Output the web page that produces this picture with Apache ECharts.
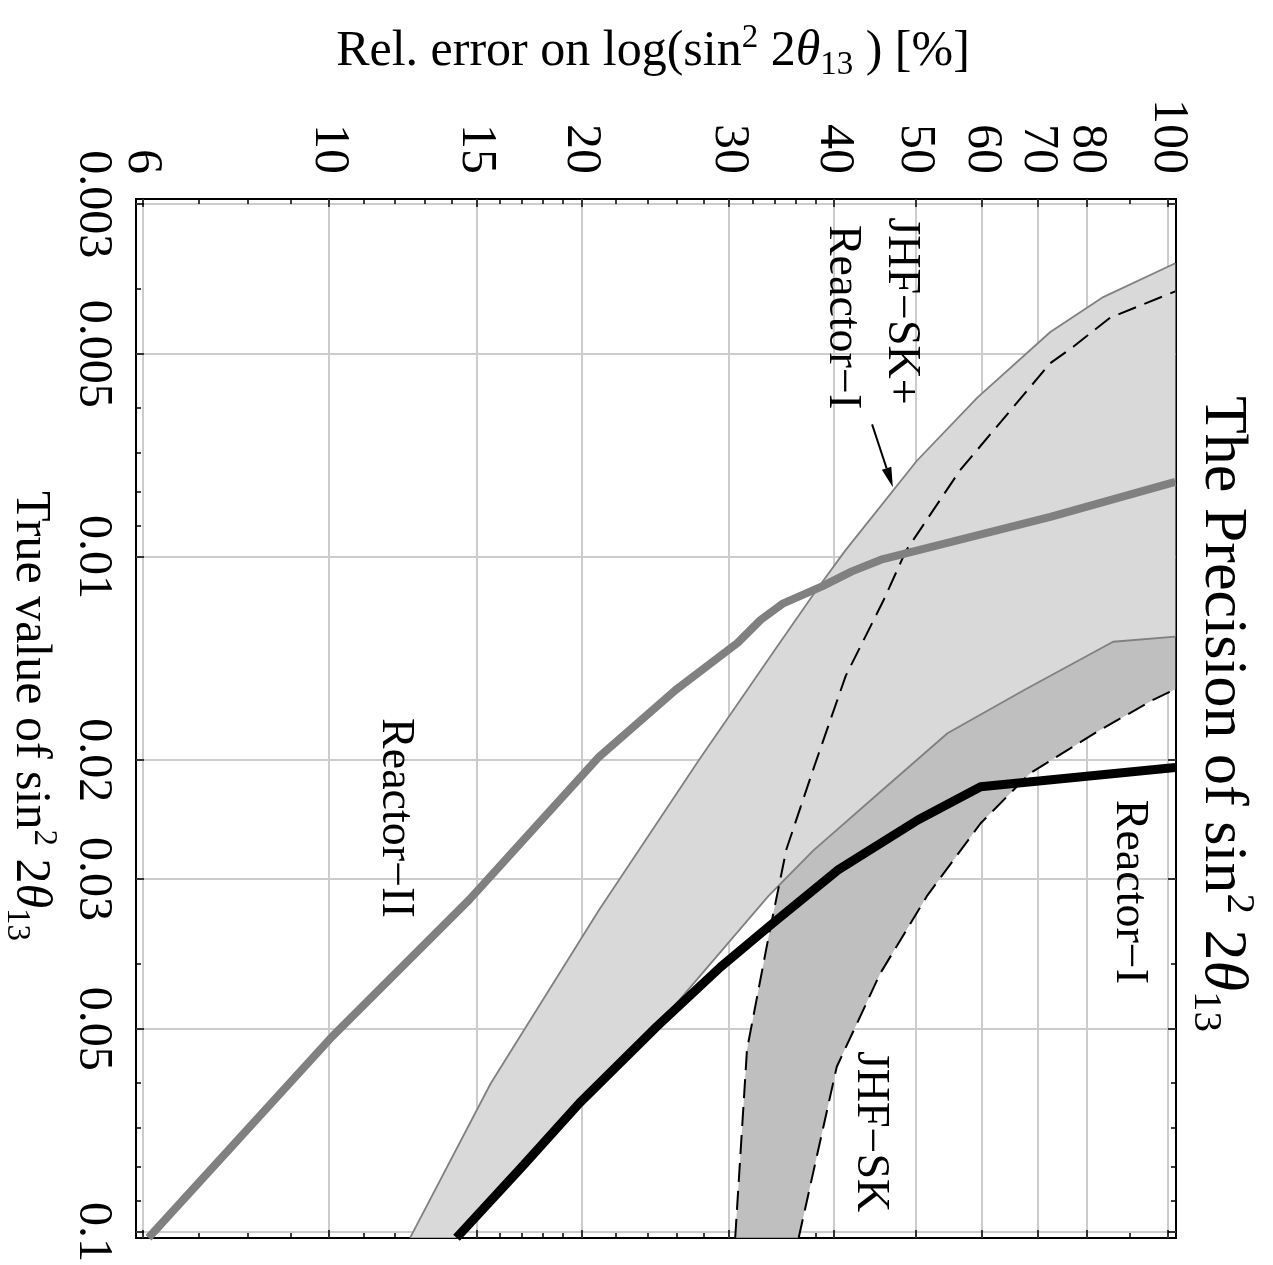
<!DOCTYPE html>
<html><head><meta charset="utf-8">
<script src="https://cdn.jsdelivr.net/npm/echarts@6/dist/echarts.min.js"></script>
<style>html,body{margin:0;padding:0;background:#fff}#c{width:1273px;height:1265px}</style>
</head><body><div id="c"></div>
<script>
const FONT = 'Liberation Serif';

// ---- axes (horizontal: relative error in %, vertical: true sin^2 2theta13) ----
const errRange = [5.894, 102.2];
const s2Range = [0.002948, 0.10207];
const errMajorTicks = [6, 10, 15, 20, 30, 40, 50, 60, 70, 80, 100];
const errMinorTicks = [7, 8, 9, 11, 12, 13, 14, 16, 17, 18, 19, 22, 24, 26, 28, 32, 34, 36, 38, 90];
const s2MajorTicks = [0.003, 0.005, 0.01, 0.02, 0.03, 0.05, 0.1];
const s2MinorTicks = [0.004, 0.006, 0.007, 0.008, 0.009, 0.04, 0.06, 0.07, 0.08, 0.09];

// ---- curves: [rel. error %, sin^2 2theta13] ----
const reactorII = [[6.1,0.102],[10.1,0.0513],[14.7,0.0322],[21.0,0.01976],[25.9,0.01574],[30.7,0.0134],[32.7,0.01239],[34.8,0.01171],[38.7,0.01105],[42.0,0.0105],[45.5,0.01009],[72.4,0.00872],[102,0.00774]];
const reactorI = [[14.2,0.102],[17.0,0.08],[19.9,0.0644],[24.6,0.0496],[29.3,0.0405],[33.8,0.0349],[40.4,0.0291],[50.4,0.0245],[59.8,0.0219],[102,0.0205]];
// JHF-SK + Reactor-I band: left edge, right edge
const comboLeft = [[12.5,0.102],[15.6,0.0602],[21.0,0.0333],[27.6,0.02],[33.9,0.0138],[38.1,0.0112],[41.2,0.0098],[50.2,0.0072],[59.3,0.0058],[72.4,0.00464],[83.7,0.00412],[102,0.00367]];
const comboRight = [[14.2,0.102],[19.9,0.0644],[24.6,0.0496],[33.4,0.0318],[37.8,0.0272],[45.0,0.0225],[54.6,0.01824],[67.4,0.01574],[86.0,0.01335],[102,0.01312]];
// JHF-SK band: left (dashed) edge, right (dashed) edge
const jhfLeft = [[30.5,0.102],[31.5,0.0537],[33.5,0.036],[35.1,0.0271],[37.9,0.0204],[41.3,0.015],[45.8,0.0116],[48.7,0.0098],[56.5,0.00744],[72.4,0.00516],[77.1,0.00488],[85.3,0.00442],[102,0.00404]];
const jhfRight = [[36.3,0.102],[40.3,0.0569],[45.4,0.0414],[51.6,0.0318],[59.8,0.0248],[68.5,0.0209],[82.6,0.0181],[95.8,0.0163],[102,0.0157]];

// ---- annotations ----
const annotationTexts = ['JHF\u2212SK+', 'Reactor\u2212I', 'Reactor\u2212II', 'Reactor\u2212I', 'JHF\u2212SK'];
const annotationPos = [[48.1,0.00432],[40.9,0.00441],[12.0,0.02435],[89.9,0.03134],[44.15,0.0710]];
const arrowFrom = [44.4, 0.00636];
const arrowTo = [47.0, 0.00788];

const comboBand = comboLeft.concat(comboRight.slice().reverse());
const jhfBand = jhfLeft.concat(jhfRight.slice().reverse());

function rich(fs) {
  return {
    n: {fontSize: fs, fontFamily: FONT, fill: '#000', lineHeight: Math.round(fs * 1.2)},
    it: {fontSize: fs, fontFamily: FONT, fontStyle: 'italic', fill: '#000', lineHeight: Math.round(fs * 1.2)},
    sup: {fontSize: Math.round(fs * 0.66), fontFamily: FONT, fill: '#000', verticalAlign: 'top'},
    sub: {fontSize: Math.round(fs * 0.66), fontFamily: FONT, fill: '#000', verticalAlign: 'bottom'}
  };
}

const tickLine = {color: '#000', width: 1.5};
function xAxisDef(pos, ticks, len, withLabels) {
  return {
    type: 'log', logBase: 10, position: pos, min: errRange[0], max: errRange[1],
    axisLine: {show: false},
    axisTick: {show: true, inside: true, length: len, customValues: ticks, lineStyle: tickLine},
    axisLabel: withLabels ? {show: true, customValues: ticks, rotate: 90, margin: 25,
      fontFamily: FONT, fontSize: 50, color: '#000', formatter: v => String(Math.round(v))} : {show: false},
    splitLine: withLabels ? {show: true, lineStyle: {color: '#cccccc', width: 2}} : {show: false},
    minorTick: {show: false}, minorSplitLine: {show: false}
  };
}
function yAxisDef(pos, ticks, len, withLabels) {
  return {
    type: 'log', logBase: 10, position: pos, inverse: true, min: s2Range[0], max: s2Range[1],
    axisLine: {show: false},
    axisTick: {show: true, inside: true, length: len, customValues: ticks, lineStyle: tickLine},
    axisLabel: withLabels ? {show: true, customValues: ticks, rotate: -90, margin: 19,
      fontFamily: FONT, fontSize: 48, color: '#000', formatter: v => String(parseFloat(Number(v).toPrecision(3)))} : {show: false},
    splitLine: withLabels ? {show: true, lineStyle: {color: '#cccccc', width: 2}} : {show: false},
    minorTick: {show: false}, minorSplitLine: {show: false}
  };
}

function polygonSeries(points, color, z) {
  return {
    type: 'custom', coordinateSystem: 'cartesian2d', xAxisIndex: 0, yAxisIndex: 0, z: z, silent: true,
    data: [points[0]],
    renderItem: function (params, api) {
      return {type: 'polygon', shape: {points: points.map(p => api.coord(p))}, style: {fill: color}};
    }
  };
}
function lineSeries(data, color, width, z, dashed) {
  return {
    type: 'line', data: data, xAxisIndex: 0, yAxisIndex: 0, symbol: 'none', showSymbol: false, silent: true, z: z,
    lineStyle: {color: color, width: width, type: dashed ? [19, 9] : 'solid', join: 'round', cap: 'butt'},
    clip: true
  };
}

const chart = echarts.init(document.getElementById('c'), null, {renderer: 'canvas'});
chart.setOption({
  animation: false,
  backgroundColor: '#fff',
  grid: {left: 136, top: 199, right: 97, bottom: 27, show: true, borderColor: '#000', borderWidth: 2, backgroundColor: 'transparent'},
  xAxis: [
    xAxisDef('top', errMajorTicks, 8, true),
    xAxisDef('top', errMinorTicks, 5, false),
    xAxisDef('bottom', errMajorTicks, 8, false),
    xAxisDef('bottom', errMinorTicks, 5, false)
  ],
  yAxis: [
    yAxisDef('left', s2MajorTicks, 8, true),
    yAxisDef('left', s2MinorTicks, 5, false),
    yAxisDef('right', s2MajorTicks, 8, false),
    yAxisDef('right', s2MinorTicks, 5, false)
  ],
  series: [
    polygonSeries(jhfBand, '#bfbfbf', 2),
    polygonSeries(comboBand, '#d9d9d9', 3),
    lineSeries(comboLeft, '#808080', 1.8, 4, false),
    lineSeries(comboRight, '#808080', 1.8, 4, false),
    lineSeries(jhfLeft, '#000', 2, 5, true),
    lineSeries(jhfRight, '#000', 2, 5, true),
    lineSeries(reactorII, '#808080', 8, 6, false),
    lineSeries(reactorI, '#000', 9, 7, false),
    {
      type: 'custom', coordinateSystem: 'cartesian2d', xAxisIndex: 0, yAxisIndex: 0, z: 10, silent: true,
      data: annotationPos,
      renderItem: function (params, api) {
        const c = api.coord(annotationPos[params.dataIndex]);
        const children = [{
          type: 'text', x: c[0], y: c[1], rotation: -Math.PI / 2,
          style: {text: annotationTexts[params.dataIndex], fontSize: 46, fontFamily: FONT, fill: '#000',
            align: 'center', verticalAlign: 'middle', textAlign: 'center', textVerticalAlign: 'middle'}
        }];
        if (params.dataIndex === 0) {
          const a = api.coord(arrowFrom), b = api.coord(arrowTo);
          const dx = b[0] - a[0], dy = b[1] - a[1], L = Math.hypot(dx, dy);
          const ux = dx / L, uy = dy / L, hl = 20, hw = 5;
          const bx = b[0] - ux * hl, by = b[1] - uy * hl;
          children.push({type: 'line', shape: {x1: a[0], y1: a[1], x2: bx, y2: by}, style: {stroke: '#000', lineWidth: 2}});
          children.push({type: 'polygon', shape: {points: [[b[0], b[1]], [bx - uy * hw, by + ux * hw], [bx + uy * hw, by - ux * hw]]}, style: {fill: '#000'}});
        }
        return {type: 'group', children: children};
      }
    }
  ],
  graphic: [
    {type: 'text', x: 653, y: 52, z: 100,
      style: {text: '{n|Rel. error on log(sin}{sup|2}{n| 2}{it|\u03b8}{sub|13}{n| ) [%]}', rich: rich(50),
        align: 'center', verticalAlign: 'middle', textAlign: 'center', textVerticalAlign: 'middle'}},
    {type: 'text', x: 30, y: 716, rotation: -Math.PI / 2, z: 100,
      style: {text: '{n|True value of sin}{sup|2}{n| 2}{it|\u03b8}{sub|13}', rich: rich(50),
        align: 'center', verticalAlign: 'middle', textAlign: 'center', textVerticalAlign: 'middle'}},
    {type: 'text', x: 1222, y: 714, rotation: -Math.PI / 2, z: 100,
      style: {text: '{n|The Precision of sin}{sup|2}{n| 2}{it|\u03b8}{sub|13}', rich: rich(62),
        align: 'center', verticalAlign: 'middle', textAlign: 'center', textVerticalAlign: 'middle'}}
  ]
});
</script>
</body></html>
